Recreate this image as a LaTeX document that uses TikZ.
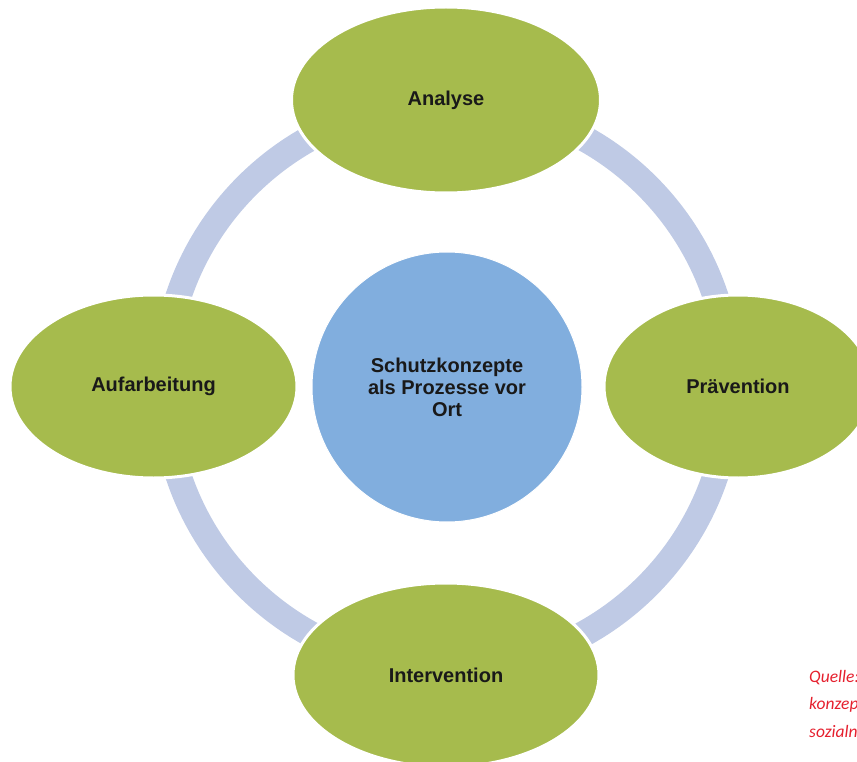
\documentclass[tikz,border=0pt]{standalone}
\usepackage{fontspec}
\setmainfont{Liberation Sans}
\newfontfamily\carl{Carlito}
\usetikzlibrary{shapes.geometric}
\definecolor{leaf}{HTML}{A6BB4D}
\definecolor{sky}{HTML}{81AEDE}
\definecolor{ringc}{HTML}{BFCAE5}
\definecolor{srcred}{HTML}{E5202E}
\begin{document}
\begin{tikzpicture}[x=1pt,y=-1pt,
  phase/.style={ellipse, fill=leaf, draw=white, line width=3pt, inner sep=0pt,
    font=\fontsize{20}{22}\selectfont\bfseries, text=black!90},
  core/.style={circle, fill=sky, draw=white, line width=1pt, inner sep=0pt,
    minimum size=270pt, align=center,
    font=\fontsize{20}{22}\selectfont\bfseries, text=black!90},
  srctext/.style={anchor=west, inner sep=0pt, text=srcred,
    font=\carl\itshape\fontsize{17.5}{19}\selectfont}]
\useasboundingbox (0,0) rectangle (857,762);
% ring
\coordinate (mid) at (447,386);
\draw[ringc, line width=26pt] (mid) circle[radius=283];
% center
\node[core] (center) at (447,387) {Schutzkonzepte\\als Prozesse vor\\Ort};
% phases
\node[phase, minimum width=309pt, minimum height=186pt] (analyse) at (446,100) {Analyse};
\node[phase, minimum width=268pt, minimum height=183pt] (praev) at (738,386.5) {Prävention};
\node[phase, minimum width=306pt, minimum height=184pt] (interv) at (446,675) {Intervention};
\node[phase, minimum width=287pt, minimum height=183pt] (aufarb) at (153.5,386.5) {Aufarbeitung};
% source note (cut at the right edge)
\node[srctext] (q1) at (809,678) {Quelle:};
\node[srctext] (q2) at (809,705) {konzep};
\node[srctext] (q3) at (809,731) {sozialn};
\end{tikzpicture}
\end{document}
